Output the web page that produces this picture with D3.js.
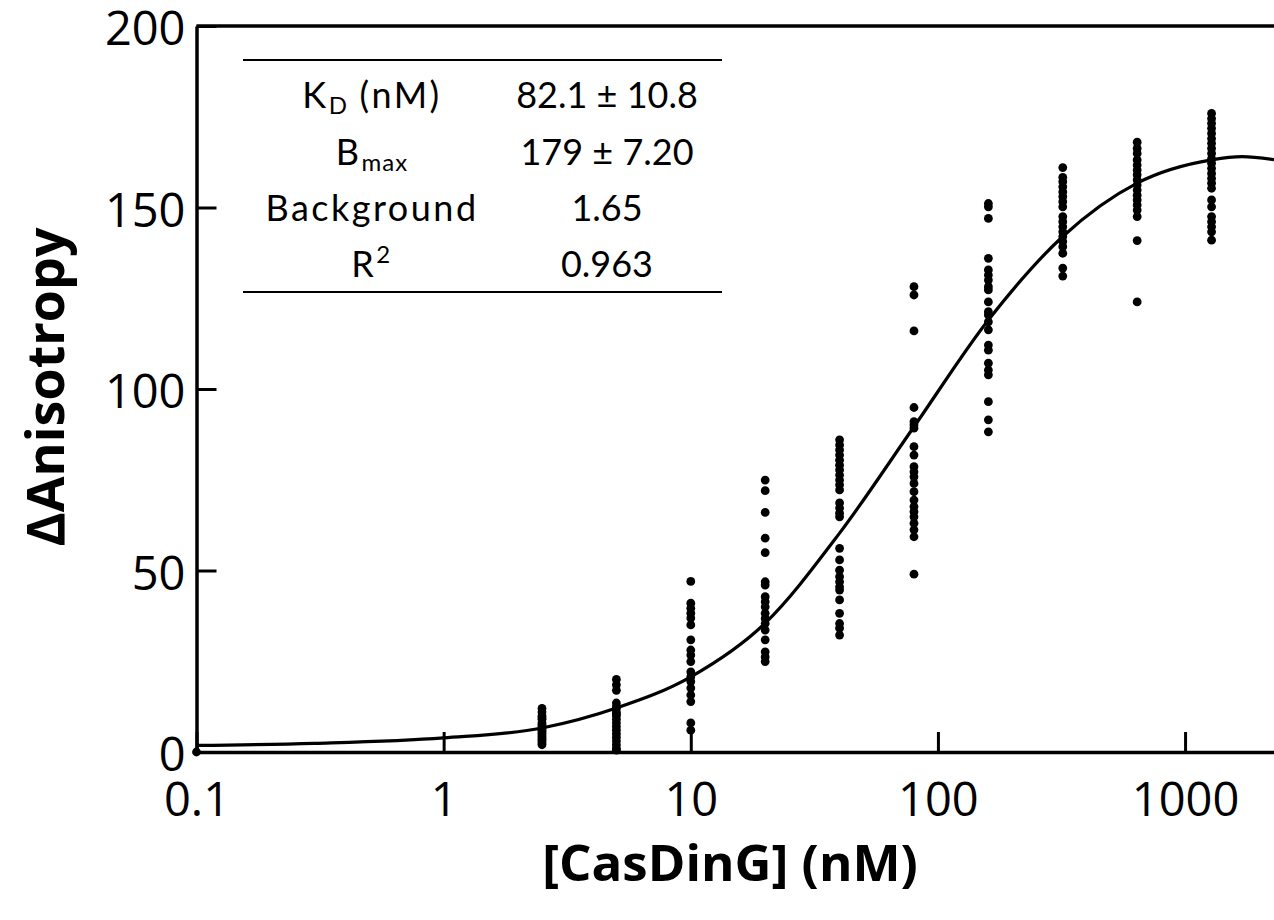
<!DOCTYPE html>
<html><head><meta charset="utf-8">
<script src="https://cdn.jsdelivr.net/npm/d3@7"></script>
<style>body{margin:0;background:#fff}svg{display:block}</style>
</head><body>
<svg id="c" width="1274" height="920"></svg>
<script>
// ---- data ----
const concentrations = [2.5, 5, 10, 20, 40, 80, 160, 320, 640, 1280];
const values_2_5 = [12, 11, 10, 9.5, 9, 8, 7.5, 7, 6.5, 6, 5.5, 5, 4.5, 4, 3.5, 3, 2.5, 2];
const values_5 = [20, 18.5, 17, 13.5, 12.5, 12, 11, 10.5, 10, 9, 8, 7, 6, 5, 4, 3, 2, 1, 0.5];
const values_10 = [47, 41, 39.6, 38.2, 36.9, 35, 30.9, 28.1, 26.7, 24.9, 22.1, 20.7, 19.4, 17.6, 15.7, 13.9, 8, 6];
const values_20 = [74.9, 72, 66, 58.9, 54.9, 46.9, 46, 42.8, 41.4, 40, 38.2, 36.8, 35.4, 33.6, 30.9, 27.6, 26.2, 24.9];
const values_40 = [86, 84.6, 83.2, 81.8, 80.4, 79, 77.7, 76.3, 74.9, 73.6, 72.2, 68.6, 67.2, 65.8, 64.8, 56.1, 52.9, 50.1, 48.3, 46.9, 45.5, 44.6, 41.9, 38.2, 35.4, 34.1, 32.2];
const values_80 = [128.2, 125.9, 116, 94.9, 91, 90.1, 89.2, 84.1, 81.8, 78.6, 77.2, 75.8, 74, 71.7, 69.4, 67.6, 66.2, 64.8, 63, 61.2, 59.3, 49];
const values_160 = [151.1, 150.2, 147, 136, 132.8, 131.4, 130, 128.2, 127.3, 124, 121.3, 120.4, 118.5, 116.3, 112.1, 110.7, 107.1, 105.2, 103.9, 96.5, 91.5, 88.2];
const values_320 = [161, 158.3, 157.1, 155.7, 154.3, 153, 151.6, 150.2, 147.5, 146.1, 144.7, 143.3, 142, 140.6, 139.2, 137.4, 133.3, 131.1];
const values_640 = [168, 166.3, 164.9, 163.1, 161.7, 160.3, 159, 157.6, 156.2, 154.8, 153.4, 152.1, 150.7, 149.3, 147.5, 140.9, 124];
const values_1280 = [175.9, 174.5, 173.2, 171.8, 170.4, 169, 167.7, 166.3, 164.9, 163.5, 162.2, 160.8, 159.4, 158, 156.7, 155.3, 152.1, 150.2, 147.5, 146.1, 144.7, 143.3, 141];
const blankPoint = [0.1, 0];
const seriesValues = [values_2_5, values_5, values_10, values_20, values_40, values_80, values_160, values_320, values_640, values_1280];

// fitted curve
const fitX = [0.1, 0.3, 1, 2.5, 5, 10, 20, 40, 80, 160, 320, 640, 1280, 1700, 2290];
const fitY = [1.8, 2.4, 3.9, 6.6, 12.1, 20.7, 35.5, 60.3, 89.6, 119, 142, 156.7, 163.1, 164, 163.2];

const xTicks = [0.1, 1, 10, 100, 1000];
const xTickLabels = ["0.1", "1", "10", "100", "1000"];
const yTicks = [0, 50, 100, 150, 200];

const tableRows = [
  {name: "K", sub: "D", sup: "", suffix: " (nM)", value: "82.1 \u00B1 10.8"},
  {name: "B", sub: "max", sup: "", suffix: "", value: "179 \u00B1 7.20"},
  {name: "Background", sub: "", sup: "", suffix: "", value: "1.65"},
  {name: "R", sub: "", sup: "2", suffix: "", value: "0.963"}
];

// ---- drawing ----
const svg = d3.select("#c");
const mLeft = 196.5, mRight = 1274, mTop = 26, mBottom = 752;
const x = d3.scaleLog().domain([0.1, 2290]).range([mLeft, mRight]);
const y = d3.scaleLinear().domain([0, 200]).range([mBottom, mTop]);

const tickFont = "'Open Sans', 'Noto Sans', sans-serif";

// axes
const xAxis = d3.axisBottom(x).tickValues(xTicks).tickFormat((d, i) => xTickLabels[i]).tickSizeInner(-20).tickSizeOuter(0).tickPadding(30);
const gx = svg.append("g").attr("transform", `translate(0,${mBottom})`).call(xAxis);
gx.select(".domain").attr("stroke", "#000").attr("stroke-width", 3.5);
gx.selectAll(".tick line").attr("stroke", "#000").attr("stroke-width", 3);
gx.selectAll(".tick text").attr("font-family", tickFont).attr("font-size", 47).attr("fill", "#000").attr("dy", "0.72em");

const yAxis = d3.axisLeft(y).tickValues(yTicks).tickSizeInner(-20).tickSizeOuter(0).tickPadding(11);
const gy = svg.append("g").attr("transform", `translate(${mLeft},0)`).call(yAxis);
gy.select(".domain").attr("stroke", "#000").attr("stroke-width", 3.5);
gy.selectAll(".tick line").attr("stroke", "#000").attr("stroke-width", 3);
gy.selectAll(".tick text").attr("font-family", tickFont).attr("font-size", 47).attr("fill", "#000").attr("dy", "0.4em");

// top frame line
svg.append("line").attr("x1", x(0.1)).attr("x2", mRight).attr("y1", y(200)).attr("y2", y(200))
  .attr("stroke", "#000").attr("stroke-width", 3.5);

// fit curve
const line = d3.line().x(d => x(d[0])).y(d => y(d[1])).curve(d3.curveMonotoneX);
svg.append("path").datum(fitX.map((v, i) => [v, fitY[i]]))
  .attr("d", line).attr("fill", "none").attr("stroke", "#000").attr("stroke-width", 3.2);

// points
const pts = [];
concentrations.forEach((c, i) => seriesValues[i].forEach(v => pts.push([c, v])));
pts.push(blankPoint);
svg.append("g").selectAll("circle").data(pts).join("circle")
  .attr("cx", d => x(d[0])).attr("cy", d => y(d[1])).attr("r", 4.4).attr("fill", "#000");

// axis titles
svg.append("text").attr("x", 730).attr("y", 881).attr("text-anchor", "middle")
  .attr("font-family", tickFont).attr("font-weight", "bold").attr("font-size", 51).attr("fill", "#000")
  .text("[CasDinG] (nM)");
svg.append("text").attr("transform", "translate(64,387) rotate(-90)").attr("text-anchor", "middle")
  .attr("font-family", tickFont).attr("font-weight", "bold").attr("font-size", 52).attr("fill", "#000")
  .text("\u0394Anisotropy");

// table
const tFont = "'Lato', 'DejaVu Sans', sans-serif";
const tbl = svg.append("g");
tbl.append("line").attr("x1", 243).attr("x2", 722).attr("y1", 60).attr("y2", 60).attr("stroke", "#000").attr("stroke-width", 2.2);
tbl.append("line").attr("x1", 243).attr("x2", 722).attr("y1", 292).attr("y2", 292).attr("stroke", "#000").attr("stroke-width", 2.2);
const rowY = [108, 165, 221, 277];
tableRows.forEach((r, i) => {
  const t = tbl.append("text").attr("x", 372).attr("y", rowY[i]).attr("text-anchor", "middle")
    .attr("font-family", tFont).attr("font-size", 36).attr("letter-spacing", 2.5).attr("fill", "#000");
  t.append("tspan").text(r.name);
  if (r.sub) t.append("tspan").attr("font-size", 24).attr("letter-spacing", 1).attr("dy", 6).text(r.sub);
  if (r.sup) t.append("tspan").attr("font-size", 24).attr("dy", -14).text(r.sup);
  if (r.suffix) t.append("tspan").attr("dy", r.sub ? -6 : 0).text(r.suffix);
  tbl.append("text").attr("x", 607).attr("y", rowY[i]).attr("text-anchor", "middle")
    .attr("font-family", tFont).attr("font-size", 36).attr("fill", "#000").text(r.value);
});
</script>
</body></html>
